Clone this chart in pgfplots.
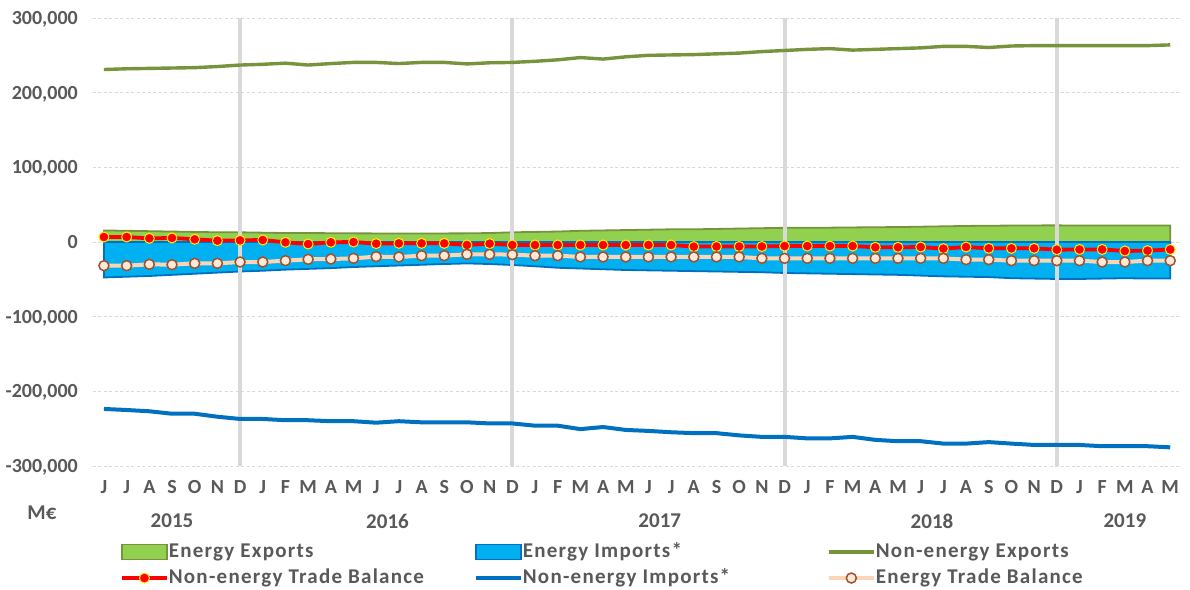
\documentclass[border=0pt]{standalone}
\usepackage{fontspec}
\setmainfont{Carlito}
\newfontfamily\legfont[LetterSpace=6]{Carlito}
\usepackage{pgfplots}
\pgfplotsset{compat=1.18}
\usepackage{pgfplotstable}

\definecolor{txt}{HTML}{595959}
\definecolor{eefill}{HTML}{92D050}
\definecolor{eedraw}{HTML}{77933C}
\definecolor{eifill}{HTML}{00B0F0}
\definecolor{eidraw}{HTML}{0070C0}
\definecolor{nee}{HTML}{77933C}
\definecolor{nei}{HTML}{0070C0}
\definecolor{etbline}{HTML}{FBD5B5}
\definecolor{etbfill}{HTML}{FDE9D9}
\definecolor{etbdraw}{HTML}{A0522D}
\definecolor{vgray}{HTML}{D9D9D9}

\pgfplotsset{
  arealeg/.style={legend image code/.code={\draw[##1] (0pt,-7.5pt) rectangle (45pt,7.5pt);}},
  lineleg/.style={legend image code/.code={\draw[##1] (0pt,0pt) -- (45pt,0pt);}},
  markleg/.style={legend image code/.code={\draw[mark repeat=2,mark phase=2,##1] plot coordinates {(0pt,0pt) (22.5pt,0pt) (45pt,0pt)};}},
}

% values in thousands of euros (M EUR / 1000)
\pgfplotstableread{
idx ee ei nee netb nei etb
0 15.5 -47.5 231 6.7 -223.6 -31.7
1 15 -46.5 232 6.7 -225 -31.7
2 14.5 -45.5 232.5 4.9 -226.7 -29.9
3 14 -44 233 5.4 -230 -30.4
4 13.5 -42.5 233.5 3.6 -230 -28.6
5 13 -41 235 1.8 -234 -28.6
6 13 -39.5 237 2.2 -237 -26.8
7 12.5 -38.5 238 2.7 -237 -26.8
8 12 -37 239.5 -0.4 -238.7 -25
9 12 -36 237 -2.7 -238.7 -23.2
10 11.8 -35 239 -0.4 -240 -22.8
11 11.6 -33.5 240.5 0 -240 -21.9
12 11.5 -32.5 240.5 -2.2 -242 -19.6
13 11.5 -31.5 239 -1.8 -240 -20.1
14 11.5 -30.5 240.5 -1.8 -241.5 -18.3
15 11.5 -29.5 240.5 -1.8 -241.5 -18.3
16 11.6 -28.7 238.5 -4 -241.5 -16.5
17 12 -29.5 240 -2.2 -243 -16.5
18 13 -30.8 240.5 -4 -243 -16.9
19 13.5 -32.5 242 -4 -246 -18.3
20 14 -34.5 244 -4 -246 -18.3
21 15 -35.5 247 -4 -250.6 -20
22 15.5 -36.5 245 -4 -247.8 -20
23 16 -37.5 248 -4 -251.7 -20
24 16.5 -38 250 -4 -253 -20
25 17 -38.5 250.5 -4 -254.8 -20
26 17 -39 251 -6.2 -256 -20
27 17.5 -39.5 252 -6 -256 -20
28 18 -40 253 -6 -259 -20
29 18.5 -40.5 255 -6 -261 -21.9
30 19 -41.5 256.5 -5.4 -261 -21.9
31 19 -42 258 -5.4 -263 -21.9
32 19.2 -42.5 259 -5.4 -263 -21.9
33 19.5 -43 257 -5.4 -261 -21.9
34 19.8 -43.5 258 -7.1 -265 -21.9
35 20 -44 259 -7.1 -266.8 -21.9
36 20.5 -45 260 -6.7 -266.8 -21.9
37 21 -46 262 -8.9 -270 -21.9
38 21.5 -46.5 262 -6.7 -270 -23.6
39 21.8 -47 260.5 -8.5 -268 -23.6
40 22 -48.5 262.5 -8.5 -270 -25
41 22.2 -49 263 -8.5 -271.8 -25
42 22.3 -49.5 263 -10.3 -271.8 -25
43 22 -49.5 263 -10 -271.8 -25
44 22 -49 263 -10 -273.5 -26.8
45 22 -48.5 263 -12 -273.5 -26.8
46 22 -49 263 -11.6 -273.5 -25
47 22 -49 264 -10 -275 -25
}\data

\begin{document}
\begin{tikzpicture}
\useasboundingbox (-92.6pt,-123pt) rectangle (1097.4pt,466pt);
\begin{axis}[
  scale only axis, width=1089pt, height=448pt,
  xmin=-0.5, xmax=47.5, ymin=-300, ymax=300,
  clip=false,
  axis line style={draw=none}, tick style={draw=none},
  ytick={-300,-200,-100,0,100,200,300},
  yticklabels={{-300,000},{-200,000},{-100,000},{0},{100,000},{200,000},{300,000}},
  xtick={0,...,47},
  xticklabels={J,J,A,S,O,N,D,J,F,M,A,M,J,J,A,S,O,N,D,J,F,M,A,M,J,J,A,S,O,N,D,J,F,M,A,M,J,J,A,S,O,N,D,J,F,M,A,M},
  ymajorgrids, major grid style={vgray, dash pattern=on 3pt off 2.5pt, line width=0.9pt},
  ticklabel style={font=\fontsize{20}{22}\selectfont\bfseries, text=txt, inner sep=0pt},
  xticklabel style={anchor=base, yshift=-27.5pt},
  yticklabel style={anchor=base east, xshift=-14.6pt, yshift=-6.4pt},
  legend columns=3,
  legend cell align=left,
  legend style={at={(axis description cs:0.0252,-0.163)}, anchor=north west,
    draw=none, fill=none, inner sep=0pt, outer sep=0pt,
    font=\legfont\fontsize{21}{23}\selectfont\bfseries, text=txt,
    nodes={inner xsep=0pt, inner ysep=4pt, text height=14pt, text depth=4pt},
    /tikz/every even column/.append style={column sep=0pt},
    /tikz/every odd column/.append style={column sep=0pt}},
]
% energy exports (area)
\addplot[fill=eefill, draw=eedraw, line width=1.8pt, arealeg]
  table[x=idx, y=ee] {\data} \closedcycle;
\addlegendentry{\makebox[305pt][l]{Energy Exports}}
% energy imports (area)
\addplot[fill=eifill, draw=eidraw, line width=1.8pt, arealeg]
  table[x=idx, y=ei] {\data} \closedcycle;
\addlegendentry{\makebox[304pt][l]{Energy Imports*}}
% December separators
\addplot[vgray, line width=4pt, forget plot] coordinates {(6,-300) (6,300)};
\addplot[vgray, line width=4pt, forget plot] coordinates {(18,-300) (18,300)};
\addplot[vgray, line width=4pt, forget plot] coordinates {(30,-300) (30,300)};
\addplot[vgray, line width=4pt, forget plot] coordinates {(42,-300) (42,300)};
% non-energy exports
\addplot[nee, line width=3.4pt, mark=none, lineleg]
  table[x=idx, y=nee] {\data};
\addlegendentry{Non-energy Exports}
% non-energy trade balance
\addplot[red, line width=3.8pt, mark=*, mark size=5pt,
  mark options={fill=red, draw=yellow, line width=1pt}, markleg]
  table[x=idx, y=netb] {\data};
\addlegendentry{\makebox[305pt][l]{Non-energy Trade Balance}}
% non-energy imports
\addplot[nei, line width=4pt, mark=none, lineleg]
  table[x=idx, y=nei] {\data};
\addlegendentry{\makebox[304pt][l]{Non-energy Imports*}}
% energy trade balance
\addplot[etbline, line width=4pt, mark=*, mark size=5pt,
  mark options={fill=etbfill, draw=etbdraw, line width=1.5pt}, markleg]
  table[x=idx, y=etb] {\data};
\addlegendentry{Energy Trade Balance}

\node[font=\fontsize{21}{23}\selectfont\bfseries, text=txt] at ([yshift=-55pt]axis cs:3,-300) {2015};
\node[font=\fontsize{21}{23}\selectfont\bfseries, text=txt] at ([yshift=-55pt]axis cs:12.5,-300) {2016};
\node[font=\fontsize{21}{23}\selectfont\bfseries, text=txt] at ([yshift=-55pt]axis cs:24.5,-300) {2017};
\node[font=\fontsize{21}{23}\selectfont\bfseries, text=txt] at ([yshift=-55pt]axis cs:36.5,-300) {2018};
\node[font=\fontsize{21}{23}\selectfont\bfseries, text=txt] at ([yshift=-55pt]axis cs:45,-300) {2019};
\node[font=\fontsize{21}{23}\selectfont\bfseries, text=txt] at ([xshift=-50.6pt,yshift=-47pt]rel axis cs:0,0) {M€};
\end{axis}
\end{tikzpicture}
\end{document}
